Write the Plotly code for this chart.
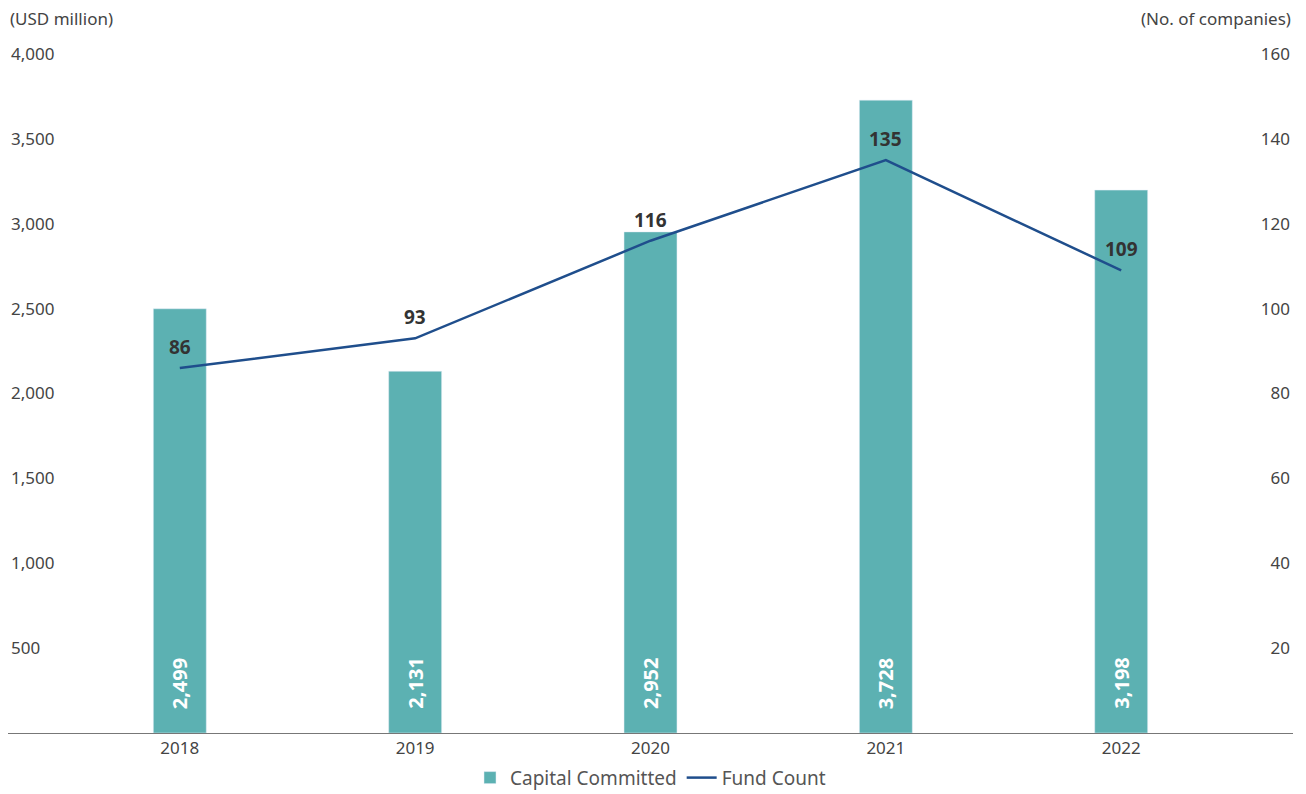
import plotly.graph_objects as go

years = ["2018", "2019", "2020", "2021", "2022"]
capital = [2499, 2131, 2952, 3728, 3198]
fund_count = [86, 93, 116, 135, 109]
left_ticks = [500, 1000, 1500, 2000, 2500, 3000, 3500, 4000]
right_ticks = [20, 40, 60, 80, 100, 120, 140, 160]

FONT = "Noto Sans"
TICK = dict(size=17, color="#444444", family=FONT)
fig = go.Figure()
fig.add_trace(go.Bar(
    x=years, y=capital, name="Capital Committed",
    marker_color="#5cb1b2", width=0.225, yaxis="y",
))
fig.add_trace(go.Scatter(
    x=years, y=fund_count, name="Fund Count", mode="lines",
    line=dict(color="#1f4e8c", width=2.5), yaxis="y2",
))
annotations = [
    dict(text="(USD million)", xref="paper", yref="paper", x=0, y=1, yshift=19,
         xanchor="left", yanchor="middle", showarrow=False, font=TICK),
    dict(text="(No. of companies)", xref="paper", yref="paper", x=1, y=1, yshift=19,
         xanchor="right", yanchor="middle", showarrow=False, font=TICK),
]
for i, v in enumerate(capital):
    annotations.append(dict(text=f"{v:,}", x=i, y=0, xref="x", yref="y",
                            yanchor="bottom", yshift=22, textangle=-90, showarrow=False,
                            font=dict(color="white", size=20, family=FONT, weight="bold")))
for i, v in enumerate(fund_count):
    annotations.append(dict(text=str(v), x=i, y=v, xref="x", yref="y2",
                            yanchor="middle", yshift=21, showarrow=False,
                            font=dict(color="#333333", size=19, family=FONT, weight="bold")))

fig.update_layout(
    width=1298, height=786,
    margin=dict(l=0, r=13, t=29, b=61, autoexpand=False),
    plot_bgcolor="white", paper_bgcolor="white",
    font=dict(family=FONT, size=17, color="#444444"),
    showlegend=True,
    legend=dict(orientation="h", x=0.5, xanchor="center", y=-0.037, yanchor="top",
                font=dict(size=19, color="#555555"), traceorder="normal"),
    xaxis=dict(type="category", range=[-0.73, 4.73], showline=True, linecolor="#777777",
               linewidth=1, showgrid=False, ticks="", tickfont=TICK),
    yaxis=dict(range=[0, 4100], tickvals=left_ticks, ticktext=[f"{v:,}" for v in left_ticks],
               showgrid=False, zeroline=False, ticklabelposition="inside", ticks="",
               tickfont=TICK),
    yaxis2=dict(range=[0, 164], tickvals=right_ticks, overlaying="y", side="right",
                showgrid=False, zeroline=False, ticklabelposition="inside", ticks="",
                tickfont=TICK),
    annotations=annotations,
)
fig.write_html("out.html")
